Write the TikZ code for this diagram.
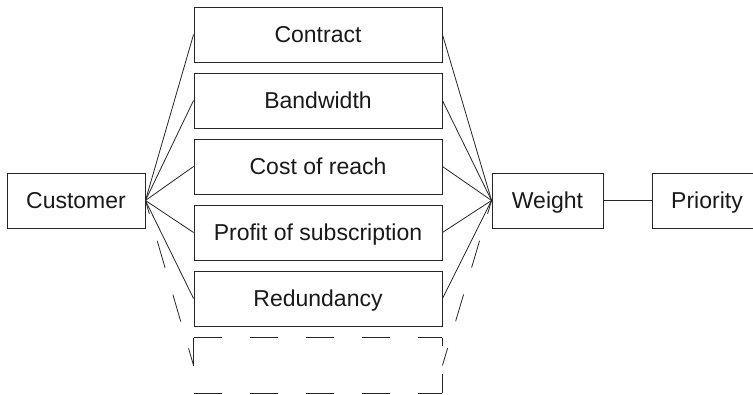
\documentclass[tikz,border=0pt]{standalone}
\usepackage{fontspec}
\setmainfont{Liberation Sans}
\begin{document}
\begin{tikzpicture}[x=1pt,y=-1pt,
  box/.style={draw=black!85,line width=0.9pt,inner sep=0pt,minimum height=55pt,text depth=0pt,font=\fontsize{23}{27}\selectfont,text=black!90},
  midbox/.style={box,minimum width=248pt},
  conn/.style={draw=black!85,line width=0.8pt},
  dconn/.style={conn,dash pattern=on 28pt off 28pt}]
\useasboundingbox (0,0) rectangle (753,395);
\node[box,minimum width=138pt] (cust) at (76,200.5) {Customer};
\node[midbox] (contract) at (318,34.5) {Contract};
\node[midbox] (band) at (318,100.5) {Bandwidth};
\node[midbox] (cost) at (318,166.5) {Cost of reach};
\node[midbox] (profit) at (318,232.5) {Profit of subscription};
\node[midbox] (red) at (318,298.5) {Redundancy};
\node[midbox,draw=none] (dash) at (318,365.5) {};
\draw[dconn,dash phase=0pt] (dash.north west) -- (dash.north east);
\draw[dconn,dash phase=20pt] (dash.north east) -- (dash.south east);
\draw[dconn] (dash.north west) -- (dash.south west) -- (dash.south east);
\node[box,minimum width=111pt] (weight) at (547.5,200.5) {Weight};
\node[box,minimum width=110pt] (prio) at (707,200.5) {Priority};
\foreach \n in {contract,band,cost,profit,red}{
  \draw[conn] (cust.east) -- (\n.west);
  \draw[conn] (weight.west) -- (\n.east);
}
\draw[dconn,dash phase=14pt] (cust.east) -- (dash.west);
\draw[dconn,dash phase=14pt] (weight.west) -- (dash.east);
\draw[conn] (weight.east) -- (prio.west);
\end{tikzpicture}
\end{document}
